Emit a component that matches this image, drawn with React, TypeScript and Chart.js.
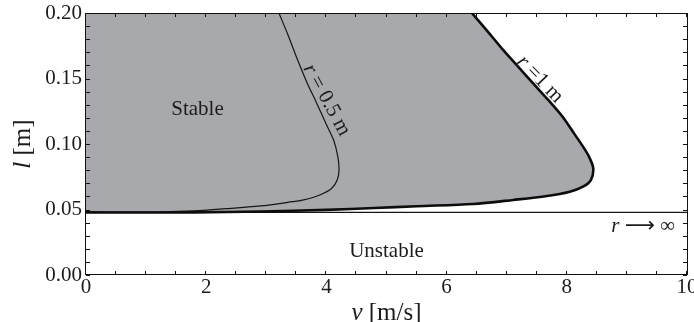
import React, { useEffect, useRef } from 'react';
import { Chart, registerables } from 'chart.js';

Chart.register(...registerables);

// ---- axes ----
const X_MIN = 0;
const X_MAX = 10;
const Y_MIN = 0;
const Y_MAX = 0.2;
const xTickLabels = [0, 2, 4, 6, 8, 10];
const yTickLabels = [0, 0.05, 0.1, 0.15, 0.2];
const xMinorStep = 0.5;
const yMinorStep = 0.01;

// ---- r = 1 m boundary (thick) ----
const r1V = [6.42, 6.71, 6.94, 7.19, 7.44, 7.69, 7.93, 8.12, 8.27, 8.37, 8.44, 8.4, 8.27, 8.05, 7.67, 7.11, 6.44, 5.5, 4.8, 4.0, 2.9, 1.8, 0.9, 0];
const r1L = [0.2, 0.1845, 0.1718, 0.159, 0.1463, 0.1336, 0.1208, 0.1081, 0.098, 0.0903, 0.0815, 0.0725, 0.0674, 0.0636, 0.0603, 0.0573, 0.0542, 0.0525, 0.0511, 0.0497, 0.0485, 0.0478, 0.0477, 0.0478];

// ---- r = 0.5 m boundary (thin) ----
const r05V = [3.21, 3.35, 3.51, 3.67, 3.84, 3.99, 4.12, 4.19, 4.21, 4.18, 4.09, 3.89, 3.62, 3.44, 2.9, 2.34, 1.78, 1.23, 0.6, 0];
const r05L = [0.2, 0.1845, 0.1654, 0.1476, 0.131, 0.1158, 0.103, 0.0903, 0.0802, 0.0725, 0.0662, 0.0611, 0.0573, 0.056, 0.0527, 0.0506, 0.0489, 0.0481, 0.0478, 0.0478];

// ---- r -> infinity ----
const rInfV = [0, 10];
const rInfL = [0.0478, 0.0478];

// ---- text ----
const stableLabel = 'Stable';
const unstableLabel = 'Unstable';

const FONT = '"Liberation Serif", "Times New Roman", Times, serif';
const INK = '#1c1c1c';
const FILL = '#a8a9ac';

const toPts = (vs: number[], ls: number[]) => vs.map((v, i) => ({ x: v, y: ls[i] }));

type Part = { t: string; i?: boolean; f?: string };

function drawRich(ctx: CanvasRenderingContext2D, parts: Part[], x: number, y: number, size: number, align: 'left' | 'center' | 'right') {
  const fonts = parts.map((p) => `${p.i ? 'italic ' : ''}${size}px ${p.f || FONT}`);
  const widths = parts.map((p, k) => {
    ctx.font = fonts[k];
    return ctx.measureText(p.t).width;
  });
  const total = widths.reduce((a, b) => a + b, 0);
  let cx = align === 'center' ? x - total / 2 : align === 'right' ? x - total : x;
  ctx.textAlign = 'left';
  parts.forEach((p, k) => {
    ctx.font = fonts[k];
    ctx.fillText(p.t, cx, y);
    cx += widths[k];
  });
}

const decorPlugin = {
  id: 'decor',
  afterDraw(chart: any) {
    const { ctx, chartArea: a } = chart;
    const xs = chart.scales.x;
    const ys = chart.scales.y;
    ctx.save();
    // frame
    ctx.strokeStyle = '#111';
    ctx.lineWidth = 1;
    ctx.strokeRect(Math.round(a.left) - 0.5, Math.round(a.top) + 0.5, Math.round(a.right - a.left) + 1, Math.round(a.bottom - a.top) - 1);
    // inward ticks
    const tl = 4;
    ctx.beginPath();
    for (let v = X_MIN; v <= X_MAX + 1e-9; v += xMinorStep) {
      const px = Math.round(xs.getPixelForValue(v)) - 0.5;
      ctx.moveTo(px, a.bottom);
      ctx.lineTo(px, a.bottom - tl);
      ctx.moveTo(px, a.top);
      ctx.lineTo(px, a.top + tl);
    }
    for (let l = Y_MIN; l <= Y_MAX + 1e-9; l += yMinorStep) {
      const py = Math.round(ys.getPixelForValue(l)) + 0.5;
      ctx.moveTo(a.left, py);
      ctx.lineTo(a.left + tl, py);
      ctx.moveTo(a.right, py);
      ctx.lineTo(a.right - tl, py);
    }
    ctx.stroke();

    ctx.fillStyle = INK;
    ctx.textBaseline = 'alphabetic';
    // region labels
    drawRich(ctx, [{ t: stableLabel }], xs.getPixelForValue(1.855), ys.getPixelForValue(0.122), 21, 'center');
    drawRich(ctx, [{ t: unstableLabel }], xs.getPixelForValue(5.0), ys.getPixelForValue(0.014), 21, 'center');
    drawRich(
      ctx,
      [{ t: 'r ', i: true }, { t: '\u27F6', f: '"DejaVu Sans", sans-serif' }, { t: ' \u221E' }],
      xs.getPixelForValue(9.8),
      ys.getPixelForValue(0.0332),
      21,
      'right'
    );

    // rotated curve labels
    ctx.textBaseline = 'middle';
    ctx.save();
    ctx.translate(xs.getPixelForValue(4.005), ys.getPixelForValue(0.1336));
    ctx.rotate((61.4 * Math.PI) / 180);
    drawRich(ctx, [{ t: 'r', i: true }, { t: ' = 0.5 m' }], 0, 0, 21, 'center');
    ctx.restore();
    ctx.save();
    ctx.translate(xs.getPixelForValue(7.554), ys.getPixelForValue(0.1494));
    ctx.rotate((46 * Math.PI) / 180);
    drawRich(ctx, [{ t: 'r', i: true }, { t: ' =1 m' }], 0, 0, 21, 'center');
    ctx.restore();

    // axis titles
    ctx.textBaseline = 'alphabetic';
    drawRich(ctx, [{ t: 'v', i: true }, { t: ' [m/s]' }], (a.left + a.right) / 2, chart.height - 2, 25, 'center');
    ctx.save();
    ctx.translate(30, (a.top + a.bottom) / 2);
    ctx.rotate(-Math.PI / 2);
    drawRich(ctx, [{ t: 'l', i: true }, { t: ' [m]' }], 0, 0, 25, 'center');
    ctx.restore();
    ctx.restore();
  },
};

export default function App() {
  const ref = useRef<HTMLCanvasElement | null>(null);

  useEffect(() => {
    if (!ref.current) return;
    const r1Pts = toPts(r1V, r1L);
    const fillPts = [{ x: X_MIN, y: Y_MAX }, r1Pts[0], ...r1Pts];
    const tension = 0.3;
    const chart = new Chart(ref.current, {
      type: 'line',
      data: {
        datasets: [
          {
            data: r1Pts,
            borderColor: '#0d0d0d',
            borderWidth: 2.6,
            pointRadius: 0,
            tension,
            fill: false,
            order: 1,
          },
          {
            data: toPts(r05V, r05L),
            borderColor: '#151515',
            borderWidth: 1.2,
            pointRadius: 0,
            tension,
            fill: false,
            order: 2,
          },
          {
            data: toPts(rInfV, rInfL),
            borderColor: '#151515',
            borderWidth: 1.1,
            pointRadius: 0,
            tension: 0,
            fill: false,
            order: 3,
          },
          {
            data: fillPts,
            borderColor: 'transparent',
            borderWidth: 0,
            backgroundColor: FILL,
            pointRadius: 0,
            tension,
            fill: 'shape',
            order: 10,
          },
        ],
      },
      options: {
        animation: false,
        responsive: true,
        maintainAspectRatio: false,
        events: [],
        layout: { padding: { top: 13, right: 7, left: 0, bottom: 0 } },
        plugins: { legend: { display: false }, tooltip: { enabled: false } },
        scales: {
          x: {
            type: 'linear',
            min: X_MIN,
            max: X_MAX,
            position: 'bottom',
            grid: { display: false, drawTicks: false },
            border: { display: false },
            ticks: {
              autoSkip: false,
              maxRotation: 0,
              padding: 0,
              color: INK,
              font: { family: FONT, size: 21 },
              callback: (v: any) => String(v),
            },
            afterBuildTicks: (s: any) => {
              s.ticks = xTickLabels.map((v) => ({ value: v }));
            },
            afterFit: (s: any) => {
              s.height = 47;
              s.paddingLeft = 0;
              s.paddingRight = 0;
            },
          },
          y: {
            type: 'linear',
            min: Y_MIN,
            max: Y_MAX,
            grid: { display: false, drawTicks: false },
            border: { display: false },
            ticks: {
              autoSkip: false,
              padding: 4,
              color: INK,
              font: { family: FONT, size: 21 },
              callback: (v: any) => Number(v).toFixed(2),
            },
            afterBuildTicks: (s: any) => {
              s.ticks = yTickLabels.map((v) => ({ value: v }));
            },
            afterFit: (s: any) => {
              s.width = 86;
              s.paddingTop = 0;
              s.paddingBottom = 0;
            },
          },
        },
      } as any,
      plugins: [decorPlugin],
    });
    return () => chart.destroy();
  }, []);

  return (
    <div style={{ position: 'fixed', left: 0, top: 0, width: 694, height: 322, background: '#fff' }}>
      <canvas ref={ref} />
    </div>
  );
}
